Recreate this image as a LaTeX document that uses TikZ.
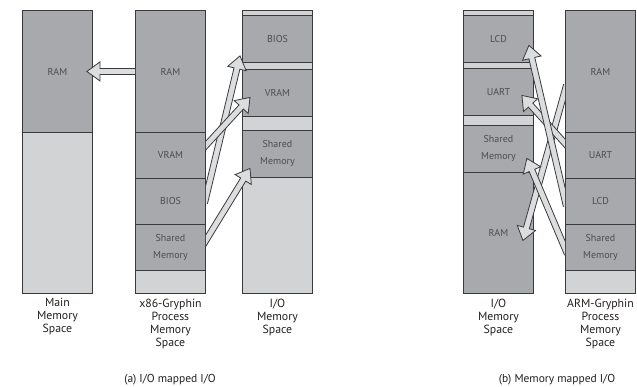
\documentclass[tikz,border=0pt]{standalone}
\usepackage{fontspec}
\setmainfont{PT Sans}
\usetikzlibrary{calc}
\definecolor{boxdark}{HTML}{A7A9AC}
\definecolor{boxlight}{HTML}{D1D3D4}
\definecolor{arrowfill}{HTML}{DCDDDE}
\definecolor{edgegray}{HTML}{3A3A3C}
\definecolor{inktext}{HTML}{231F20}
\definecolor{boxtext}{HTML}{4D4D4F}

\begin{document}
\begin{tikzpicture}[x=1pt, y=-1pt, line join=miter,
  segbox/.style={draw=edgegray, line width=0.9pt, minimum width=70pt, inner sep=0pt,
    anchor=north west, text=boxtext, align=center, font=\fontsize{10}{17}\selectfont},
  collabel/.style={anchor=north, align=center, text=inktext, inner sep=0pt,
    font=\fontsize{11.8}{13}\selectfont},
  caption/.style={text=inktext, font=\fontsize{11.5}{12}\selectfont},
  fatarr/.style={draw=edgegray, line width=0.8pt, fill=arrowfill}]

\useasboundingbox (0,0) rectangle (637,387);
\coordinate (bot) at (0,387);

% --- layout helpers (px, y grows down) ---
\def\Main{22}   % main memory column
\def\Xcol{135}  % x86 process column
\def\IOa{242}   % I/O column, left part
\def\IOb{463}   % I/O column, right part
\def\Arm{565}   % ARM process column
\def\arrsw{3pt}   % half shaft
\def\arrhw{9.5pt} % half head
\def\arrhl{13pt}  % head length

% --- one memory segment: name, x, top, bottom, fill, label
\newcommand{\memseg}[6]{%
  \node[segbox, fill=#5, minimum height={(#4-#3)*1pt}] (#1) at (#2,#3) {#6};
}
% --- hollow block arrow from start to tip
\newcommand{\fatarrow}[2]{%
  \coordinate (fa0) at ($(#1)!-6pt!(#2)$);
  \coordinate (fan) at ($(#2)!\arrhl!(#1)$);
  \filldraw[fatarr] ($(fa0)!\arrsw!90:(#2)$) -- ($(fan)!\arrsw!90:(#2)$)
    -- ($(fan)!\arrhw!90:(#2)$) -- (#2) -- ($(fan)!\arrhw!-90:(#2)$)
    -- ($(fan)!\arrsw!-90:(#2)$) -- ($(fa0)!\arrsw!-90:(#2)$);
}

% --- (a) main memory ---
\memseg{mainram}{\Main}{10}{132}{boxdark}{RAM}
\memseg{mainfree}{\Main}{132}{293}{boxlight}{}

% --- (a) x86-Gryphin process ---
\memseg{xram}{\Xcol}{10}{132}{boxdark}{RAM}
\memseg{xvram}{\Xcol}{132}{178}{boxdark}{VRAM}
\memseg{xbios}{\Xcol}{178}{224}{boxdark}{BIOS}
\memseg{xshm}{\Xcol}{224}{270}{boxdark}{Shared\\Memory}
\memseg{xfree}{\Xcol}{270}{293}{boxlight}{}

% --- (a) I/O memory ---
\memseg{iaf0}{\IOa}{10}{15}{boxlight}{}
\memseg{iabios}{\IOa}{15}{62}{boxdark}{BIOS}
\memseg{iaf1}{\IOa}{62}{69}{boxlight}{}
\memseg{iavram}{\IOa}{69}{116}{boxdark}{VRAM}
\memseg{iaf2}{\IOa}{116}{130}{boxlight}{}
\memseg{iashm}{\IOa}{130}{177}{boxdark}{Shared\\Memory}
\memseg{iaf3}{\IOa}{177}{293}{boxlight}{}

% --- (b) I/O memory ---
\memseg{ibf0}{\IOb}{10}{15}{boxlight}{}
\memseg{iblcd}{\IOb}{15}{62}{boxdark}{LCD}
\memseg{ibf1}{\IOb}{62}{68}{boxlight}{}
\memseg{ibuart}{\IOb}{68}{115}{boxdark}{UART}
\memseg{ibf2}{\IOb}{115}{125}{boxlight}{}
\memseg{ibshm}{\IOb}{125}{172}{boxdark}{Shared\\Memory}
\memseg{ibram}{\IOb}{172}{293}{boxdark}{RAM}

% --- (b) ARM-Gryphin process ---
\memseg{aram}{\Arm}{10}{132}{boxdark}{RAM}
\memseg{auart}{\Arm}{132}{178}{boxdark}{UART}
\memseg{alcd}{\Arm}{178}{224}{boxdark}{LCD}
\memseg{ashm}{\Arm}{224}{270}{boxdark}{Shared\\Memory}
\memseg{afree}{\Arm}{270}{293}{boxlight}{}

% --- column labels ---
\node[collabel] (mainlbl) at ($(mainfree.south)+(0,4.5)$) {Main\\Memory\\Space};
\node[collabel] (xlbl) at ($(xfree.south)+(0,4.5)$) {x86-Gryphin\\Process\\Memory\\Space};
\node[collabel] (ialbl) at ($(iaf3.south)+(0,4.5)$) {I/O\\Memory\\Space};
\node[collabel] (iblbl) at ($(ibram.south)+(0,4.5)$) {I/O\\Memory\\Space};
\node[collabel] (albl) at ($(afree.south)+(0,4.5)$) {ARM-Gryphin\\Process\\Memory\\Space};

\node[caption] (capa) at (170,380) {(a) I/O mapped I/O};
\node[caption] (capb) at (557,380) {(b) Memory mapped I/O};

% --- (a) arrows ---
\begin{scope}
  \clip (0,0) rectangle (xram.west |- bot);
  \fatarrow{xram.west}{$(mainram.east)+(-6,0)$}
\end{scope}
\begin{scope}
  \clip (xram.north east) rectangle (637,387);
  \fatarrow{$(xbios.east)+(0,-4)$}{$(iabios.south west)+(-2,-7)$}
  \fatarrow{$(xvram.east)+(0,-10)$}{$(iavram.west)+(8,4.5)$}
  \fatarrow{$(xshm.east)+(0,-7)$}{$(iashm.west)+(8,14.5)$}
\end{scope}

% --- (b) arrows ---
\begin{scope}
  \clip (0,0) rectangle (aram.west |- bot);
  \fatarrow{$(aram.west)+(0,19)$}{$(ibram.east)+(-11,7.5)$}
  \fatarrow{$(auart.west)+(0,-12)$}{$(ibuart.east)+(-12,3.5)$}
  \fatarrow{$(alcd.west)+(0,-1)$}{$(iblcd.east)+(-5,6.5)$}
  \fatarrow{$(ashm.west)+(0,1)$}{$(ibshm.east)+(-7,9.5)$}
\end{scope}

\end{tikzpicture}
\end{document}
